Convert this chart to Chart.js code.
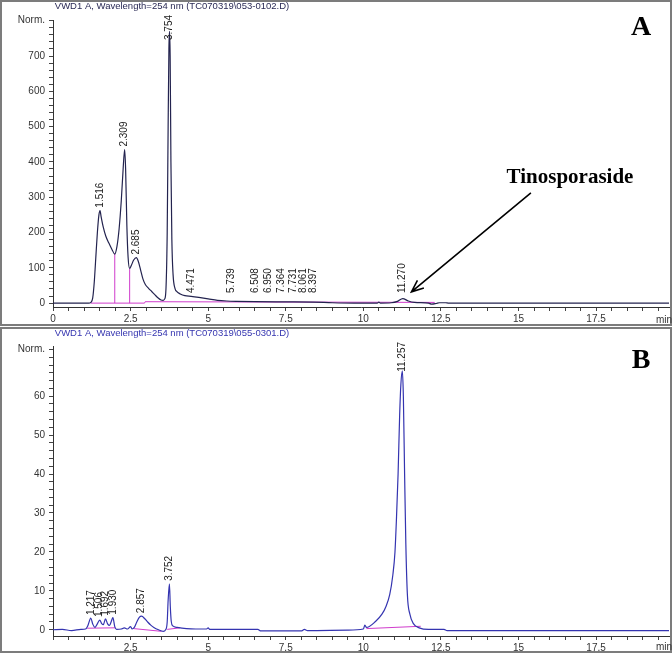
<!DOCTYPE html>
<html>
<head>
<meta charset="utf-8">
<script src="https://cdn.jsdelivr.net/npm/chart.js@4.4.0/dist/chart.umd.min.js"></script>
<style>
  html, body { margin: 0; padding: 0; background: #fff; }
  #wrap { position: relative; width: 672px; height: 653px; }
  canvas { position: absolute; left: 0; }
  #chartA { top: 0; }
  #chartB { top: 327px; }
</style>
</head>
<body>
<div id="wrap">
  <canvas id="chartA" width="672" height="326"></canvas>
  <canvas id="chartB" width="672" height="326"></canvas>
</div>
<script>
// ---- panel A : crude extract ----
var titleA = 'VWD1 A, Wavelength=254 nm (TC070319\\053-0102.D)';
var timeA = [0, 1.15, 1.22, 1.28, 1.33, 1.38, 1.43, 1.48, 1.516, 1.55, 1.62, 1.70, 1.80, 1.90, 1.99,
  2.06, 2.13, 2.20, 2.26, 2.309, 2.34, 2.38, 2.42, 2.47, 2.53, 2.60, 2.685, 2.75, 2.82, 2.90, 2.98,
  3.08, 3.18, 3.28, 3.38, 3.48, 3.55, 3.60, 3.64, 3.68, 3.71, 3.735, 3.754, 3.775, 3.80, 3.83, 3.87,
  3.93, 4.00, 4.10, 4.25, 4.45, 4.70, 5.00, 5.30, 5.60, 5.90, 6.50, 7.50, 8.40, 9.00, 9.70, 10.45,
  10.50, 10.55, 10.90, 11.10, 11.27, 11.45, 11.65, 12.10, 12.20, 12.35, 12.45, 12.65, 12.75, 19.85];
var signalA = [0, 0, 2, 15, 60, 130, 200, 250, 262, 245, 215, 190, 170, 152, 139,
  160, 210, 290, 380, 435, 380, 220, 130, 98, 108, 122, 129, 118, 95, 68, 52,
  42, 33, 24, 15, 9, 8, 12, 40, 200, 500, 720, 770, 700, 400, 180, 80,
  42, 32, 26, 21, 19, 16, 12, 8, 6, 5, 4, 3.5, 3, 1, 0, 0,
  3, 0, 1, 5, 13, 6, 2, 0, -3, -1, 1, 1, 0, 0];
var baseTimeA = [1.22, 2.95, 2.97, 12.3];
var baseA = [0, 0, 4, 2];
var dropTimesA = [1.99, 2.47];
var peaksA = ['1.516', '2.309', '2.685', '3.754', '4.471', '5.739', '6.508', '6.950', '7.364',
  '7.731', '8.061', '8.397', '11.270'];
var noteText = 'Tinosporaside';
var noteAt = [16.66, 340];
var arrowFrom = [15.4, 312];
var arrowTo = [11.55, 32];

// ---- panel B : tinosporaside standard ----
var titleB = 'VWD1 A, Wavelength=254 nm (TC070319\\055-0301.D)';
var timeB = [0, 0.3, 0.6, 0.9, 1.05, 1.12, 1.217, 1.28, 1.35, 1.42, 1.506, 1.57, 1.62, 1.692, 1.76,
  1.82, 1.88, 1.930, 1.99, 2.05, 2.2, 2.3, 2.4, 2.5, 2.55, 2.62, 2.70, 2.78, 2.857, 2.95, 3.05,
  3.15, 3.25, 3.40, 3.55, 3.63, 3.68, 3.71, 3.752, 3.78, 3.81, 3.86, 4.0, 4.3, 4.6, 4.95, 5.0,
  5.05, 6.6, 6.7, 8.0, 8.1, 8.2, 9.5, 10.0, 10.05, 10.1, 10.4, 10.6, 10.73, 10.85, 10.95, 11.02,
  11.07, 11.12, 11.17, 11.21, 11.257, 11.29, 11.33, 11.37, 11.42, 11.50, 11.62, 11.8, 12.1, 12.6,
  12.7, 19.85];
var signalB = [0, 0.1, -0.2, 0.1, 0.2, 1.0, 3.0, 1.5, 0.6, 1.4, 2.5, 1.6, 1.3, 2.8, 1.5,
  1.1, 2.2, 3.1, 0.8, 0.1, 0.2, 0.5, 0.2, 0.8, 0.2, 0.6, 2.0, 3.2, 3.5, 2.9, 2.0,
  1.2, 0.6, 0.0, -0.4, 0.0, 2.0, 7.5, 11.8, 6.0, 2.2, 1.0, 0.6, 0.3, 0.2, 0.2, 0.5,
  0.1, 0.1, -0.3, -0.3, 0.1, -0.2, -0.1, 0.2, 1.2, 0.6, 2.2, 4.0, 6.0, 9.0, 14, 20,
  29, 40, 55, 63, 66.5, 60, 40, 22, 9, 4, 1.5, 0.5, 0.1, 0.1,
  -0.2, -0.2];
var baseTimeB = [1.10, 2.00, 2.01, 2.60, 3.50, 3.51, 3.68, 4.10, 4.11, 10.10, 11.85];
var baseB = [0.4, 0.5, null, 0.3, -0.4, null, 0.1, 0.5, null, 0.3, 0.9];
var peaksB = ['1.217', '1.506', '1.692', '1.930', '2.857', '3.752', '11.257'];

var sans = '"Liberation Sans", Arial, sans-serif';
var serif = '"Liberation Serif", "Times New Roman", serif';

function pts(ts, vs) {
  return ts.map(function (t, i) { return { x: t, y: vs[i] }; });
}

function valueAt(ts, vs, t) {
  for (var i = 0; i < ts.length - 1; i++) {
    if (t >= ts[i] && t <= ts[i + 1]) {
      var f = (t - ts[i]) / (ts[i + 1] - ts[i]);
      return vs[i] + f * (vs[i + 1] - vs[i]);
    }
  }
  return 0;
}

function apex(ts, vs, t) {
  var m = valueAt(ts, vs, t);
  for (var i = 0; i < ts.length; i++) {
    if (Math.abs(ts[i] - t) <= 0.05 && vs[i] > m) m = vs[i];
  }
  return m;
}

function makeChart(id, cfg) {
  var datasets = [
    { data: pts(cfg.time, cfg.signal), borderColor: cfg.traceColor, borderWidth: 1.2,
      pointRadius: 0, cubicInterpolationMode: 'monotone', order: 1 },
    { data: pts(cfg.baseTime, cfg.base), borderColor: '#d03ccc', borderWidth: 1,
      pointRadius: 0, tension: 0, spanGaps: false, order: 2 }
  ];
  if (cfg.drops) {
    var d = [];
    cfg.drops.forEach(function (t) {
      d.push({ x: t, y: 0 }, { x: t, y: valueAt(cfg.time, cfg.signal, t) }, { x: t, y: null });
    });
    datasets.push({ data: d, borderColor: '#d03ccc', borderWidth: 1, pointRadius: 0,
      tension: 0, spanGaps: false, order: 2 });
  }

  var overlay = {
    id: 'overlay' + id,
    beforeDraw: function (chart) {
      var ctx = chart.ctx;
      ctx.save();
      ctx.fillStyle = '#fff';
      ctx.fillRect(0, 0, chart.width, chart.height);
      ctx.strokeStyle = '#7c7c7c';
      ctx.lineWidth = 2;
      ctx.strokeRect(1, 1, chart.width - 2, chart.height - 2);
      ctx.restore();
    },
    afterDraw: function (chart) {
      var ctx = chart.ctx, xs = chart.scales.x, ys = chart.scales.y, area = chart.chartArea;
      ctx.save();
      // header line
      ctx.font = '9.5px ' + sans;
      ctx.fillStyle = cfg.titleColor;
      ctx.textAlign = 'center';
      ctx.textBaseline = 'middle';
      ctx.fillText(cfg.title, 172, 6.5);
      // axis unit
      ctx.font = '10px ' + sans;
      ctx.fillStyle = '#333';
      ctx.textAlign = 'left';
      ctx.fillText('min', 656, xs.bottom - 6);
      // peak retention-time labels
      var zeroPx = ys.getPixelForValue(0);
      ctx.fillStyle = '#222';
      cfg.peaks.forEach(function (lab) {
        var t = parseFloat(lab);
        var px = xs.getPixelForValue(t);
        var py = ys.getPixelForValue(apex(cfg.time, cfg.signal, t));
        var w = ctx.measureText(lab).width;
        var bottom = Math.min(py - 3, zeroPx - 10);
        if (bottom - w < 15) bottom = 15 + w;
        ctx.save();
        ctx.translate(px, bottom);
        ctx.rotate(-Math.PI / 2);
        ctx.textAlign = 'left';
        ctx.textBaseline = 'middle';
        ctx.fillText(lab, 0, 0);
        ctx.restore();
      });
      // panel letter
      ctx.font = 'bold 28px ' + serif;
      ctx.fillStyle = '#000';
      ctx.textAlign = 'center';
      ctx.textBaseline = 'alphabetic';
      ctx.fillText(cfg.letter, area.right - 28, cfg.letterY);
      // annotation with arrow
      if (cfg.note) {
        ctx.font = 'bold 21px ' + serif;
        ctx.fillText(cfg.note, xs.getPixelForValue(cfg.noteAt[0]), ys.getPixelForValue(cfg.noteAt[1]));
        var x1 = xs.getPixelForValue(cfg.arrowFrom[0]), y1 = ys.getPixelForValue(cfg.arrowFrom[1]);
        var x2 = xs.getPixelForValue(cfg.arrowTo[0]), y2 = ys.getPixelForValue(cfg.arrowTo[1]);
        var ang = Math.atan2(y2 - y1, x2 - x1);
        ctx.strokeStyle = '#000';
        ctx.lineWidth = 1.6;
        ctx.beginPath();
        ctx.moveTo(x1, y1);
        ctx.lineTo(x2, y2);
        ctx.moveTo(x2 - 13 * Math.cos(ang - 0.4), y2 - 13 * Math.sin(ang - 0.4));
        ctx.lineTo(x2, y2);
        ctx.lineTo(x2 - 13 * Math.cos(ang + 0.4), y2 - 13 * Math.sin(ang + 0.4));
        ctx.stroke();
      }
      ctx.restore();
    }
  };

  return new Chart(document.getElementById(id), {
    type: 'line',
    data: { datasets: datasets },
    options: {
      responsive: false,
      animation: false,
      layout: { padding: { top: cfg.padTop, right: 3, left: 0, bottom: 0 } },
      plugins: { legend: { display: false }, tooltip: { enabled: false }, title: { display: false } },
      scales: {
        x: {
          type: 'linear', min: 0, max: 19.85,
          afterBuildTicks: function (s) {
            var t = [];
            for (var v = 0; v <= 19.5; v += 0.5) t.push({ value: v });
            s.ticks = t;
          },
          afterFit: function (s) { s.height = cfg.xHeight; },
          grid: { drawOnChartArea: false, drawTicks: true, tickLength: 4, color: '#444' },
          border: { color: '#333', width: 1 },
          ticks: {
            autoSkip: false, maxRotation: 0, minRotation: 0, padding: 2,
            color: '#333', font: { family: sans, size: 10 },
            callback: function (v) {
              var k = v / 2.5;
              if (Math.abs(k - Math.round(k)) > 1e-6) return '';
              if (v === 0 && !cfg.showZero) return '';
              return String(Math.round(v * 10) / 10);
            }
          }
        },
        y: {
          type: 'linear', min: cfg.yMin, max: cfg.yMax,
          afterBuildTicks: function (s) {
            var t = [];
            for (var v = 0; v <= cfg.normAt + 1e-9; v += cfg.minor) t.push({ value: v });
            s.ticks = t;
          },
          afterFit: function (s) { s.width = 53; },
          grid: { drawOnChartArea: false, drawTicks: true, tickLength: 4, color: '#444' },
          border: { color: '#333', width: 1 },
          ticks: {
            autoSkip: false, padding: 4, color: '#333', font: { family: sans, size: 10 },
            callback: function (v) {
              if (Math.abs(v - cfg.normAt) < 1e-6) return 'Norm.';
              if (cfg.normAt - v < cfg.major / 2) return '';
              var k = v / cfg.major;
              if (Math.abs(k - Math.round(k)) > 1e-6) return '';
              return String(Math.round(v));
            }
          }
        }
      }
    },
    plugins: [overlay]
  });
}

makeChart('chartA', {
  title: titleA, titleColor: '#2a2a55', traceColor: '#23234f',
  time: timeA, signal: signalA, baseTime: baseTimeA, base: baseA, drops: dropTimesA,
  peaks: peaksA, letter: 'A', letterY: 35, showZero: true,
  note: noteText, noteAt: noteAt, arrowFrom: arrowFrom, arrowTo: arrowTo,
  yMin: -11, yMax: 802, minor: 20, major: 100, normAt: 800,
  padTop: 20, xHeight: 19
});

makeChart('chartB', {
  title: titleB, titleColor: '#3535b0', traceColor: '#3434b0',
  time: timeB, signal: signalB, baseTime: baseTimeB, base: baseB, drops: null,
  peaks: peaksB, letter: 'B', letterY: 41, showZero: false,
  yMin: -1.6, yMax: 72.9, minor: 2, major: 10, normAt: 72,
  padTop: 19, xHeight: 17
});
</script>
</body>
</html>
